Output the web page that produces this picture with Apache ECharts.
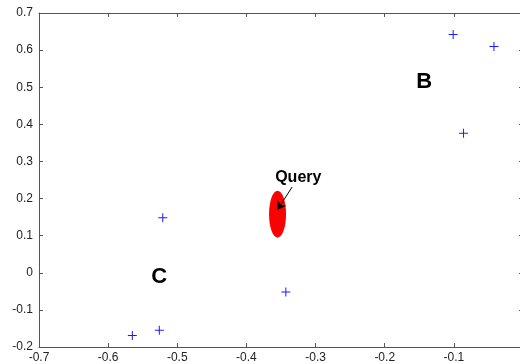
<!DOCTYPE html>
<html>
<head>
<meta charset="utf-8">
<script src="https://cdn.jsdelivr.net/npm/echarts@6/dist/echarts.min.js"></script>
<style>
  html, body { margin: 0; padding: 0; background: #fff; }
  #chart { width: 520px; height: 364px; }
</style>
</head>
<body>
<div id="chart"></div>
<script>
// data points (x, y)
var points = [
    [-0.101, 0.642],
    [-0.042, 0.610],
    [-0.086, 0.376],
    [-0.521, 0.148],
    [-0.343, -0.052],
    [-0.565, -0.169],
    [-0.526, -0.155]
];
// query ellipse centre
var query = [[-0.355, 0.158]];
// arrow from label to query
var arrowFrom = [-0.334, 0.231];
var arrowTo = [-0.355, 0.170];
// cluster labels
var labels = [
    { name: 'B', value: [-0.143, 0.514] },
    { name: 'C', value: [-0.526, -0.010] }
];
var queryLabel = [{ name: 'Query', value: [-0.325, 0.257] }];

var plus = 'path://M4,0h1v9h-1z M0,4h9v1h-9z';
var lineColor = '#555';

function axisBase(extra) {
    var a = {
        type: 'value',
        axisLine: { show: true, onZero: false, lineStyle: { color: lineColor, width: 1 } },
        axisTick: { show: true, inside: true, length: 4, lineStyle: { color: lineColor } },
        splitLine: { show: false }
    };
    for (var k in extra) a[k] = extra[k];
    return a;
}

var myChart = echarts.init(document.getElementById('chart'));
var option = {
    backgroundColor: '#fff',
    animation: false,
    grid: { left: 39, top: 13, width: 484, height: 334, outerBoundsMode: 'none', containLabel: false },
    xAxis: [
        axisBase({
            position: 'bottom', min: -0.7, max: 0, interval: 0.1,
            axisLabel: {
                color: '#222', fontSize: 12, fontFamily: 'Liberation Sans', margin: 5,
                formatter: function (v) { return +v.toFixed(1) + ''; }
            }
        }),
        axisBase({ position: 'top', min: -0.7, max: 0, interval: 0.1, axisLabel: { show: false } })
    ],
    yAxis: [
        axisBase({
            position: 'left', min: -0.2, max: 0.7, interval: 0.1,
            axisLabel: {
                color: '#222', fontSize: 12, fontFamily: 'Liberation Sans', margin: 6,
                formatter: function (v) { return +v.toFixed(1) + ''; }
            }
        }),
        axisBase({ position: 'right', min: -0.2, max: 0.7, interval: 0.1, axisLabel: { show: false } })
    ],
    series: [
        {
            type: 'scatter',
            data: query,
            symbol: 'circle',
            symbolSize: [17, 47],
            itemStyle: { color: '#ff0000', opacity: 1 },
            z: 2
        },
        {
            type: 'scatter',
            data: points,
            symbol: plus,
            symbolSize: 9,
            itemStyle: { color: '#1a1aff', opacity: 1 },
            z: 3
        },
        {
            type: 'scatter',
            data: labels,
            symbolSize: 0,
            itemStyle: { opacity: 1 },
            label: {
                show: true, position: 'inside', formatter: '{b}',
                color: '#000', fontSize: 22, fontWeight: 'bold', fontFamily: 'Liberation Sans'
            }
        },
        {
            type: 'scatter',
            data: queryLabel,
            symbolSize: 0,
            itemStyle: { opacity: 1 },
            label: {
                show: true, position: 'inside', formatter: '{b}',
                color: '#000', fontSize: 16, fontWeight: 'bold', fontFamily: 'Liberation Sans'
            },
            markLine: {
                silent: true,
                symbol: ['none', 'arrow'],
                symbolSize: 8,
                label: { show: false },
                lineStyle: { color: '#000', width: 1, type: 'solid', opacity: 1 },
                data: [[{ coord: arrowFrom }, { coord: arrowTo }]]
            }
        }
    ]
};
myChart.setOption(option);
</script>
</body>
</html>
